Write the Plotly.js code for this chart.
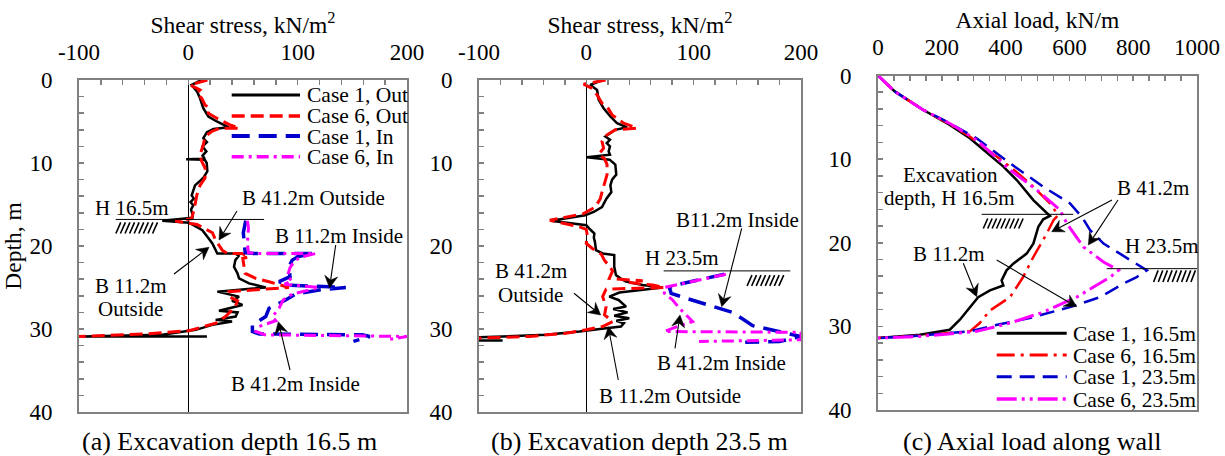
<!DOCTYPE html>
<html>
<head>
<meta charset="utf-8">
<script src="https://cdn.plot.ly/plotly-3.0.1.min.js"></script>
<style>html,body{margin:0;padding:0;background:#fff;}#chart{width:1225px;height:456px;}</style>
</head>
<body>
<div id="chart"></div>
<script>
// ---------- tick labels ----------
const shearTickVals = [-100, 0, 100, 200];
const shearTickText = ['-100', '0', '100', '200'];
const axialTickVals = [0, 200, 400, 600, 800, 1000];
const axialTickText = ['0', '200', '400', '600', '800', '1000'];
const depthTickVals = [0, 10, 20, 30, 40];
const depthTickText = ['0', '10', '20', '30', '40'];

// ---------- series names ----------
const namesAB = ['Case 1, Out', 'Case 6, Out', 'Case 1, In', 'Case 6, In'];
const namesC = ['Case 1, 16.5m', 'Case 6, 16.5m', 'Case 1, 23.5m', 'Case 6, 23.5m'];

// ---------- (a) Excavation depth 16.5 m : shear stress (kN/m2) vs depth (m) ----------
const a_case1Out_tau = [12, 3, 8, 10.7, 13.7, 18.3, 26, 37, 23, 17, 13.7, 17, 13, 16.5, 13, 15, -2, 15, 16.8, 17.4, 13.7, 6.1, 3.1, 5, 2, 4.5, 2.5, 4, 3.7, -23.8, 0.6, 12.8, 17.4, 22, 26.5, 43.3, 46, 43, 41.8, 45, 46.4, 55.5, 70.8, 26.5, 46.4, 40, 49.5, 28, 45, 43.3, 25, 40, 22, 6.8, -23.8, -97, 17];
const a_case1Out_z = [0, 0.6, 1.4, 2.2, 3.4, 4.4, 5.0, 5.7, 5.9, 6.3, 7.0, 7.5, 8.0, 8.6, 9.1, 9.5, 9.55, 9.6, 10.0, 11.0, 11.8, 12.7, 13.9, 14.3, 14.7, 15.1, 15.6, 16.3, 16.6, 16.95, 17.2, 18.1, 18.9, 19.7, 20.9, 20.9, 21.2, 21.7, 22.5, 23.3, 23.9, 24.5, 25.0, 25.5, 26.1, 26.6, 27.1, 27.8, 28.0, 28.5, 28.9, 29.1, 29.5, 30.1, 30.7, 30.9, 30.9];
const a_case6Out_tau = [17.4, 1.6, 10.7, 7.7, 12.2, 15.3, 19.2, 18.3, 26, 38, 46.7, 29, 21.4, 15.3, 13.7, 10.7, 12.2, 15.3, 15.3, 10.7, 7.7, 5.5, 3, -12, 8, 14.4, 22, 25, 31, 35.7, 49, 55.5, 49.8, 51, 52, 61.6, 73.8, 92, 37, 37, 45, 43, 34, 25, 0.6, -39, -100, -110];
const a_case6Out_z = [0, 0.6, 1.2, 1.6, 2.2, 3.0, 3.4, 4.0, 4.6, 5.4, 5.8, 5.8, 6.2, 6.8, 7.8, 9.0, 9.8, 10.6, 11.8, 12.7, 13.9, 15.5, 16.7, 17.0, 17.4, 17.9, 18.4, 19.3, 20.5, 20.9, 20.9, 21.3, 21.5, 22.5, 23.3, 23.9, 24.3, 25.0, 25.5, 26.1, 26.6, 27.3, 28.5, 29.3, 30.2, 30.6, 30.9, 31.3];
const a_case1In_tau = [52.5, 51.5, 50.3, 51, 52, 60, 113.5, 100, 95, 92, 93, 83, 90, 144, 119.6, 98, 89, 73.8, 70.8, 58.6, 58.6, 65, 159, 166, 151];
const a_case1In_z = [16.95, 17.6, 18.4, 19.5, 20.8, 20.9, 20.9, 21.3, 21.7, 22.5, 23.7, 24.3, 24.7, 25.0, 25.3, 25.8, 26.5, 27.5, 28.5, 29.5, 30.3, 30.6, 30.7, 30.9, 31.5];
const a_case6In_tau = [54, 55, 54, 55, 62, 116.5, 104, 98, 93, 90.5, 95, 88, 119.6, 95, 86.8, 83, 77, 80, 64.8, 61.8, 70, 200, 182];
const a_case6In_z = [16.95, 17.8, 19.7, 20.8, 20.9, 20.9, 21.3, 21.7, 22.6, 23.7, 24.2, 24.6, 25.0, 25.8, 26.5, 27.5, 28.5, 29.0, 29.7, 30.3, 30.7, 30.9, 31.3];

// ---------- (b) Excavation depth 23.5 m ----------
const b_case1Out_tau = [14.6, 3.7, 10, 11.5, 16.1, 22.4, 28.6, 37.9, 27, 17.7, 22, 19, 22, 20.8, 22, 0.6, 21.7, 27, 27.9, 24, 22.4, 23.3, 18.7, 14.6, 6.8, -1, -33, 0, 2.8, 7.5, 7, 8, 9, 15.2, 26, 26, 27.6, 31.7, 37, 52.5, 71, 30.8, 21.4, 30, 37, 25, 38.4, 26, 40, 28, 35, 32.3, 18.4, -6.5, -37.6, -100, -100, -78];
const b_case1Out_z = [0, 0.6, 1.2, 2.4, 3.4, 4.4, 5.2, 5.7, 6.0, 6.8, 7.2, 7.6, 8.0, 8.6, 9.0, 9.3, 9.6, 10.2, 11.4, 12.0, 12.7, 13.5, 14.3, 15.3, 15.9, 16.3, 16.95, 17.5, 17.9, 18.5, 19.0, 19.5, 20.5, 20.9, 21.1, 22.5, 23.5, 23.9, 24.3, 24.7, 25.0, 25.6, 26.1, 26.5, 27.3, 27.6, 28.0, 28.4, 28.7, 29.0, 29.3, 29.7, 29.9, 30.3, 30.7, 31.0, 31.4, 31.4];
const b_case6Out_tau = [18, -2.5, 5.3, 10, 14.6, 19.3, 24, 34.8, 47.2, 27, 19.3, 14.6, 16.1, 11.5, 17, 19.3, 19.3, 16.1, 14.6, 13, 8.4, -2.5, -34, -6.5, 0, 0.6, 0, 5.6, 14, 16.8, 24.5, 21.4, 52.5, 40, 61.8, 72.7, 18.4, 15.2, 18.4, 17, 24.5, 15.2, 0, -19, -53, -100];
const b_case6Out_z = [0, 0.5, 1.0, 1.8, 2.8, 3.2, 4.2, 5.2, 5.8, 6.0, 6.6, 7.4, 8.2, 9.0, 9.5, 10.2, 11.4, 12.7, 13.5, 14.3, 15.3, 16.1, 16.9, 17.7, 18.0, 18.5, 19.7, 20.3, 21.0, 21.7, 23.0, 23.9, 24.2, 24.4, 24.7, 25.0, 25.2, 26.1, 27.3, 28.3, 29.1, 29.7, 30.1, 30.5, 30.9, 31.1];
const b_case1In_tau = [128.6, 102, 86.7, 77.4, 79, 93, 117.7, 136.4, 155, 180, 200, 180, 148];
const b_case1In_z = [23.4, 24.1, 24.6, 25.0, 25.7, 26.3, 27.3, 28.0, 29.6, 30.3, 30.9, 31.5, 31.6];
const b_case6In_tau = [130, 99, 72.7, 72.7, 80.4, 86.7, 93, 99, 85, 72.7, 200, 200, 105];
const b_case6In_z = [23.4, 24.3, 25.0, 25.7, 26.5, 27.5, 28.3, 29.1, 29.7, 30.3, 30.4, 31.3, 31.5];

// ---------- (c) Axial load along wall (kN/m) vs depth (m) ----------
const c_case1H165_N = [0, 52.4, 141, 225, 288, 393, 435, 487, 539, 518, 502.6, 487, 466, 424, 403, 387.5, 393, 351, 314, 288, 256.6, 225, 131, 0];
const c_case1H165_z = [0, 1.9, 4.1, 5.9, 7.5, 10.9, 12.5, 14.9, 16.8, 17.2, 18.1, 20.1, 21.3, 22.5, 23.3, 24.5, 25.1, 25.7, 26.5, 27.7, 29.2, 30.4, 31.0, 31.4];
const c_case6H165_N = [0, 52, 141, 228, 288, 414, 476, 539, 565, 550, 529, 487, 455, 414, 351, 319, 288, 131, 0];
const c_case6H165_z = [0, 1.9, 4.1, 5.9, 7.3, 10.9, 12.9, 15.3, 16.7, 17.3, 18.9, 21.7, 24.1, 26.5, 28.1, 29.6, 30.6, 31.1, 31.4];
const c_case1H235_N = [0, 52, 141, 225, 309, 414, 518, 602, 639, 665, 707, 790, 843, 811, 769, 696, 602, 476, 351, 288, 131, 0];
const c_case1H235_z = [0, 1.9, 4.1, 5.7, 7.5, 10.5, 13.3, 15.3, 16.9, 18.5, 20.1, 22.1, 23.3, 24.1, 24.9, 26.5, 27.7, 29.0, 30.0, 30.6, 31.1, 31.4];
const c_case6H235_N = [0, 52, 141, 228, 309, 414, 498, 571, 592, 644, 707, 754, 728, 623, 518, 414, 309, 131, 0];
const c_case6H235_z = [0, 1.9, 4.1, 5.8, 7.7, 11.3, 13.7, 16.1, 17.7, 20.5, 22.3, 23.3, 24.1, 26.5, 28.3, 29.6, 30.6, 31.2, 31.4];

// ---------- styles ----------
const FONT = 'Liberation Serif, Times New Roman, serif';
const GRAY = '#808080';
const stAB = [
  {color: '#000000', width: 2.5, dash: 'solid'},
  {color: '#ff0000', width: 3, dash: '13px,6px'},
  {color: '#0000cc', width: 3.5, dash: '18px,9px'},
  {color: '#ff00ff', width: 3, dash: '12px,5px,3px,5px'}
];
const stC = [
  {color: '#000000', width: 2.5, dash: 'solid'},
  {color: '#ff0000', width: 2.5, dash: '18px,6px,3px,6px'},
  {color: '#0000cc', width: 2.5, dash: '15px,8px'},
  {color: '#ff00ff', width: 3, dash: '20px,5px,3px,5px,3px,5px'}
];

const W = 1225, H = 456;
const fx = p => p / W;
const fy = p => 1 - p / H;

function tr(x, y, name, st, xa, ya) {
  return {type: 'scatter', mode: 'lines', x: x, y: y, name: name, xaxis: xa, yaxis: ya,
    line: {color: st.color, width: st.width, dash: st.dash}, showlegend: false, hoverinfo: 'skip'};
}

const traces = [
  tr(a_case1Out_tau, a_case1Out_z, namesAB[0], stAB[0], 'x', 'y'),
  tr(a_case6Out_tau, a_case6Out_z, namesAB[1], stAB[1], 'x', 'y'),
  tr(a_case1In_tau, a_case1In_z, namesAB[2], stAB[2], 'x', 'y'),
  tr(a_case6In_tau, a_case6In_z, namesAB[3], stAB[3], 'x', 'y'),
  tr(b_case1Out_tau, b_case1Out_z, namesAB[0], stAB[0], 'x2', 'y2'),
  tr(b_case6Out_tau, b_case6Out_z, namesAB[1], stAB[1], 'x2', 'y2'),
  tr(b_case1In_tau, b_case1In_z, namesAB[2], stAB[2], 'x2', 'y2'),
  tr(b_case6In_tau, b_case6In_z, namesAB[3], stAB[3], 'x2', 'y2'),
  tr(c_case1H165_N, c_case1H165_z, namesC[0], stC[0], 'x3', 'y3'),
  tr(c_case6H165_N, c_case6H165_z, namesC[1], stC[1], 'x3', 'y3'),
  tr(c_case1H235_N, c_case1H235_z, namesC[2], stC[2], 'x3', 'y3'),
  tr(c_case6H235_N, c_case6H235_z, namesC[3], stC[3], 'x3', 'y3')
];

function xAx(domain, range, tv, tt, minorTick0, minorDtick, title, anchor, zero) {
  return {
    domain: domain, range: range, side: 'top', anchor: anchor,
    tickmode: 'array', tickvals: tv, ticktext: tt,
    ticks: 'inside', ticklen: 5, tickwidth: 1.5, tickcolor: GRAY,
    minor: {tick0: minorTick0, dtick: minorDtick, ticks: 'inside', ticklen: 5, tickwidth: 1.5, tickcolor: GRAY},
    showline: true, linecolor: GRAY, linewidth: 2, mirror: true,
    showgrid: false, zeroline: zero, zerolinecolor: '#000000', zerolinewidth: 1,
    tickfont: {family: FONT, size: 23, color: '#000'},
    ticklabelstandoff: 9,
    title: {text: title, font: {family: FONT, size: 23.5, color: '#000'}, standoff: 0},
    fixedrange: true
  };
}
function yAx(domain, anchor, title) {
  return {
    domain: domain, range: [40, 0], anchor: anchor,
    tickmode: 'array', tickvals: depthTickVals, ticktext: depthTickText,
    ticks: 'inside', ticklen: 5, tickwidth: 1.5, tickcolor: GRAY,
    minor: {tick0: 0, dtick: 2, ticks: 'inside', ticklen: 5, tickwidth: 1.5, tickcolor: GRAY},
    showline: true, linecolor: GRAY, linewidth: 2, mirror: true,
    showgrid: false, zeroline: false,
    tickfont: {family: FONT, size: 23, color: '#000'},
    ticklabelstandoff: 20,
    title: {text: title, font: {family: FONT, size: 23.5, color: '#000'}, standoff: 7},
    fixedrange: true
  };
}

// hatch (soil) symbol as a path in data coordinates
function hatch(xref, yref, x0, x1, z0, z1, n, slant) {
  let p = '';
  for (let i = 0; i < n; i++) {
    const xa = x0 + i * (x1 - x0 - slant) / (n - 1);
    p += 'M' + xa + ',' + z1 + ' L' + (xa + slant) + ',' + z0 + ' ';
  }
  return {type: 'path', xref: xref, yref: yref, path: p, line: {color: '#000', width: 1.6}};
}
function hline(xref, yref, x0, x1, z) {
  return {type: 'line', xref: xref, yref: yref, x0: x0, x1: x1, y0: z, y1: z, line: {color: '#000', width: 1}};
}

const shapes = [
  hline('x', 'y', -66.4, 69.3, 16.8),
  hatch('x', 'y', -66.3, -28.2, 17.15, 18.5, 9, 4.5),
  hline('x2', 'y2', 72, 190, 23.0),
  hatch('x2', 'y2', 149.8, 183.9, 23.5, 24.8, 8, 4.5),
  hline('x3', 'y3', 325, 612, 16.6),
  hatch('x3', 'y3', 330, 455, 17.1, 18.3, 9, 14),
  hline('x3', 'y3', 717, 1000, 23.1),
  hatch('x3', 'y3', 864, 995, 23.3, 24.7, 9, 14)
];

// pointer arrows (line + swept filled head), given in page pixels: tail -> tip
function pointer(tx, ty, hx, hy) {
  const dx = hx - tx, dy = hy - ty, len = Math.hypot(dx, dy);
  const ux = dx / len, uy = dy / len, vx = -uy, vy = ux;
  const L = 12, w = 6.5, nt = 4;
  const bx = hx - L * ux, by = hy - L * uy;
  const nx = hx - (L - nt) * ux, ny = hy - (L - nt) * uy;
  shapes.push({type: 'line', xref: 'paper', yref: 'paper', x0: fx(tx), y0: fy(ty), x1: fx(nx), y1: fy(ny),
    line: {color: '#000', width: 1.1}});
  const P = (x, y) => fx(x) + ',' + fy(y);
  shapes.push({type: 'path', xref: 'paper', yref: 'paper',
    path: 'M' + P(hx, hy) + ' L' + P(bx + w * vx, by + w * vy) + ' L' + P(nx, ny) + ' L' + P(bx - w * vx, by - w * vy) + ' Z',
    fillcolor: '#000', line: {color: '#000', width: 0.5}});
}

// legends drawn as line samples + text (reference rows are tighter than Plotly's legend spacing)
const legA_rows = [95, 116, 136, 156.7];
const legC_rows = [333.3, 355, 376.7, 399];
const annotations = [];
function txt(t, cx, cy, size, anchor) {
  annotations.push({text: t, xref: 'paper', yref: 'paper', x: fx(cx), y: fy(cy),
    xanchor: anchor || 'center', yanchor: 'middle', showarrow: false, borderpad: 0,
    font: {family: FONT, size: size || 21, color: '#000'}});
}
legA_rows.forEach((r, i) => {
  shapes.push({type: 'line', xref: 'paper', yref: 'paper', x0: fx(231.7), x1: fx(300), y0: fy(r), y1: fy(r),
    line: {color: stAB[i].color, width: stAB[i].width + 0.5, dash: stAB[i].dash}});
  txt(namesAB[i], 305.5, r + 0.5, 21.5, 'left');
});
legC_rows.forEach((r, i) => {
  shapes.push({type: 'line', xref: 'paper', yref: 'paper', x0: fx(996.7), x1: fx(1066.7), y0: fy(r), y1: fy(r),
    line: {color: stC[i].color, width: stC[i].width + 0.5, dash: stC[i].dash}});
  txt(namesC[i], 1072, r + 0.5, 21.5, 'left');
});

// panel (a) annotations
txt('H 16.5m', 131.5, 207.5);
txt('B 41.2m Outside', 313, 198);
txt('B 11.2m Inside', 339, 236);
txt('B 11.2m', 130.5, 285.5);
txt('Outside', 130, 308.5);
txt('B 41.2m Inside', 295, 383.5);
pointer(237, 211, 219, 240);
pointer(335.7, 245, 329.5, 288);
pointer(174, 274, 209, 247.3);
pointer(290, 370, 278.3, 321.7);
// panel (b)
txt('B11.2m Inside', 737, 219.5);
txt('H 23.5m', 681.7, 258);
txt('B 41.2m', 531, 271);
txt('Outside', 530.5, 294.5);
txt('B 11.2m Outside', 670, 396);
txt('B 41.2m Inside', 721.7, 363);
pointer(741.7, 228.3, 721.7, 306.7);
pointer(574, 293.3, 600.7, 315);
pointer(618.3, 380, 608.3, 326.7);
pointer(675, 348.3, 680, 315);
// panel (c)
txt('Excavation', 950, 174.5);
txt('depth, H 16.5m', 949, 198);
txt('B 41.2m', 1152.5, 188);
txt('H 23.5m', 1161.7, 246);
txt('B 11.2m', 949, 253.5);
pointer(1112, 200, 1051.7, 231.7);
pointer(1118, 200, 1088.3, 245);
pointer(963.3, 263.3, 976.7, 296.7);
pointer(996.7, 260, 1076.7, 306.7);
// captions
txt('(a) Excavation depth 16.5 m', 229.6, 441.5, 26);
txt('(b) Excavation depth 23.5 m', 639, 441.5, 26);
txt('(c) Axial load along wall', 1031.7, 441.5, 26);

const layout = {
  width: W, height: H, margin: {l: 0, r: 0, t: 0, b: 0},
  paper_bgcolor: '#ffffff', plot_bgcolor: '#ffffff', showlegend: false,
  font: {family: FONT, color: '#000'},
  xaxis: xAx([fx(79), fx(407)], [-100, 200], shearTickVals, shearTickText, -100, 20, 'Shear stress, kN/m<sup>2</sup>', 'y', true),
  yaxis: yAx([fy(412), fy(80)], 'x', 'Depth, m'),
  xaxis2: xAx([fx(479), fx(801)], [-100, 200], shearTickVals, shearTickText, -100, 20, 'Shear stress, kN/m<sup>2</sup>', 'y2', true),
  yaxis2: yAx([fy(412), fy(80)], 'x2', ''),
  xaxis3: xAx([fx(878), fx(1197)], [0, 1000], axialTickVals, axialTickText, 0, 50, 'Axial load, kN/m', 'y3', false),
  yaxis3: yAx([fy(410), fy(75.5)], 'x3', ''),
  shapes: shapes,
  annotations: annotations
};

Plotly.newPlot('chart', traces, layout, {displayModeBar: false, staticPlot: true});
</script>
</body>
</html>
